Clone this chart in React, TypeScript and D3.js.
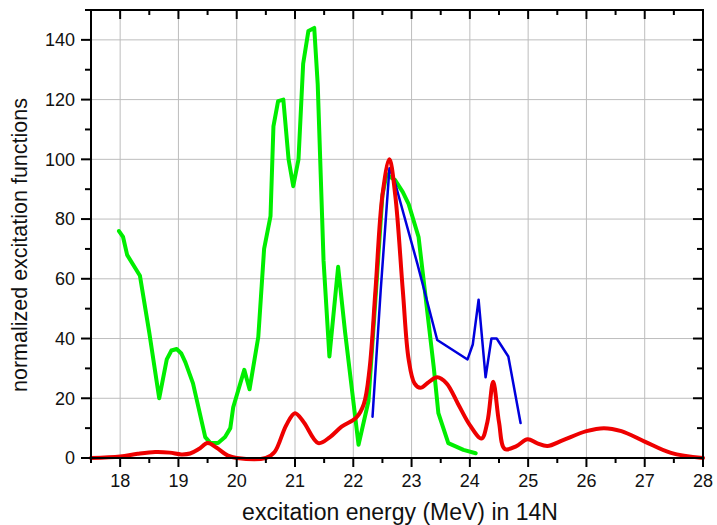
import React from "react";
import * as d3 from "d3";

// Excitation energy (MeV) and normalized excitation function values
const redEnergy = [17.5, 18, 18.3, 18.6, 18.85, 19.05, 19.2, 19.35, 19.5, 19.65, 19.85, 20.0, 20.5, 20.65, 20.85, 21.0, 21.15, 21.4, 21.6, 21.8, 22.05, 22.18, 22.28, 22.38, 22.5, 22.62, 22.72, 22.85, 22.95, 23.05, 23.15, 23.3, 23.44, 23.6, 23.8, 24.0, 24.2, 24.3, 24.4, 24.5, 24.6, 24.8, 24.99, 25.15, 25.33, 25.6, 26.0, 26.3, 26.6, 27.0, 27.45, 28];
const redValue = [0, 0.5, 1.4, 2, 1.8, 1.2, 1.5, 3, 5, 3.5, 0.8, 0, 0, 2, 11, 15, 12, 5, 7, 10.5, 13.5, 18, 30, 56, 88, 100, 88, 56, 33, 25, 23.5, 25.5, 27, 25, 18, 11, 6.5, 12, 25.5, 12, 3, 4, 6.3, 5, 4, 6, 9, 10, 9, 5.5, 1.7, 0];

const greenEnergy = [17.98, 18.05, 18.12, 18.34, 18.5, 18.67, 18.8, 18.88, 18.97, 19.05, 19.12, 19.25, 19.46, 19.55, 19.68, 19.8, 19.89, 19.94, 20.13, 20.22, 20.37, 20.47, 20.58, 20.63, 20.71, 20.8, 20.89, 20.97, 21.06, 21.14, 21.23, 21.33, 21.39, 21.49, 21.59, 21.74, 21.86, 22.09, 22.26, 22.38, 22.5, 22.57, 22.72, 22.85, 22.95, 23.12, 23.24, 23.38, 23.46, 23.63, 23.89, 24.1];
const greenValue = [76, 74, 68, 61, 42, 20, 33, 36, 36.5, 35, 32, 25, 7, 5, 5, 7, 10, 17, 29.5, 23, 40.5, 70, 81, 111, 119.5, 120, 100, 91, 100, 132, 143, 144, 125, 66, 34, 64, 42, 4.4, 19, 53, 88, 95, 93, 89, 85, 74, 54, 30.5, 15, 5, 2.7, 1.6];

const blueEnergy = [22.33, 22.47, 22.62, 22.69, 23.1, 23.44, 23.96, 24.05, 24.15, 24.27, 24.37, 24.46, 24.66, 24.87];
const blueValue = [13.8, 56, 97, 94, 65, 39.5, 33, 38, 53, 27, 40, 40, 34, 11.7];

const xTicks = [18, 19, 20, 21, 22, 23, 24, 25, 26, 27, 28];
const yTicks = [0, 20, 40, 60, 80, 100, 120, 140];
const xMinorTicks = d3.range(17.5, 28.01, 0.5);
const yMinorTicks = d3.range(0, 150.1, 10);

const W = 717;
const H = 525;
const M = { left: 91, top: 10, right: 14, bottom: 67 };

export default function App() {
  const x = d3.scaleLinear().domain([17.5, 28]).range([M.left, W - M.right]);
  const y = d3.scaleLinear().domain([0, 150]).range([H - M.bottom, M.top]);
  const x0 = M.left;
  const x1 = W - M.right;
  const y0 = H - M.bottom;
  const y1 = M.top;

  const zip = (a: number[], b: number[]) => a.map((v, i) => [v, b[i]] as [number, number]);

  const smooth = d3
    .line<[number, number]>()
    .x((d) => x(d[0]))
    .y((d) => y(d[1]))
    .curve(d3.curveCatmullRom.alpha(0.5));
  const straight = d3
    .line<[number, number]>()
    .x((d) => x(d[0]))
    .y((d) => y(d[1]));

  const font = "'Liberation Sans', Arial, sans-serif";

  return (
    <svg
      width={W}
      height={H}
      style={{ position: "absolute", left: 0, top: 0, background: "#fff" }}
    >
      {/* grid */}
      <g stroke="#bdbdbd" strokeWidth={1}>
        {xTicks.filter((t) => t < 28).map((t) => (
          <line key={"gx" + t} x1={x(t)} x2={x(t)} y1={y0} y2={y1} />
        ))}
        {yTicks.filter((t) => t > 0).map((t) => (
          <line key={"gy" + t} x1={x0} x2={x1} y1={y(t)} y2={y(t)} />
        ))}
      </g>

      {/* curves */}
      <g fill="none" strokeLinejoin="round" strokeLinecap="round">
        <path d={straight(zip(greenEnergy, greenValue)) || ""} stroke="#00ee00" strokeWidth={4} />
        <path d={straight(zip(blueEnergy, blueValue)) || ""} stroke="#0000dd" strokeWidth={2.5} />
        <path d={smooth(zip(redEnergy, redValue)) || ""} stroke="#ee0000" strokeWidth={4} />
      </g>

      {/* frame and ticks */}
      <g stroke="#000" strokeWidth={2}>
        <rect x={x0} y={y1} width={x1 - x0} height={y0 - y1} fill="none" />
        {xMinorTicks.map((t) => {
          const major = Math.abs(t - Math.round(t)) < 1e-6;
          const len = major ? 9 : 5;
          return (
            <g key={"tx" + t}>
              <line x1={x(t)} x2={x(t)} y1={y0} y2={y0 + len} />
              <line x1={x(t)} x2={x(t)} y1={y1} y2={y1 + len} />
            </g>
          );
        })}
        {yMinorTicks.map((t) => {
          const major = t % 20 === 0;
          const len = major ? 10 : 6;
          return (
            <g key={"ty" + t}>
              <line x1={x0 - len} x2={x0} y1={y(t)} y2={y(t)} />
              <line x1={x1 - len} x2={x1} y1={y(t)} y2={y(t)} />
            </g>
          );
        })}
      </g>

      {/* tick labels */}
      <g fontFamily={font} fontSize={18} fill="#111">
        {xTicks.map((t) => (
          <text key={"lx" + t} x={x(t)} y={487} textAnchor="middle">
            {t}
          </text>
        ))}
        {yTicks.map((t) => (
          <text key={"ly" + t} x={75} y={y(t)} dy="0.35em" textAnchor="end">
            {t}
          </text>
        ))}
      </g>

      {/* axis titles */}
      <text x={400} y={520} textAnchor="middle" fontFamily={font} fontSize={23} fill="#111">
        excitation energy (MeV) in 14N
      </text>
      <text
        transform={`translate(27, 245) rotate(-90)`}
        textAnchor="middle"
        fontFamily={font}
        fontSize={21.5}
        fill="#111"
      >
        normalized excitation functions
      </text>
    </svg>
  );
}
